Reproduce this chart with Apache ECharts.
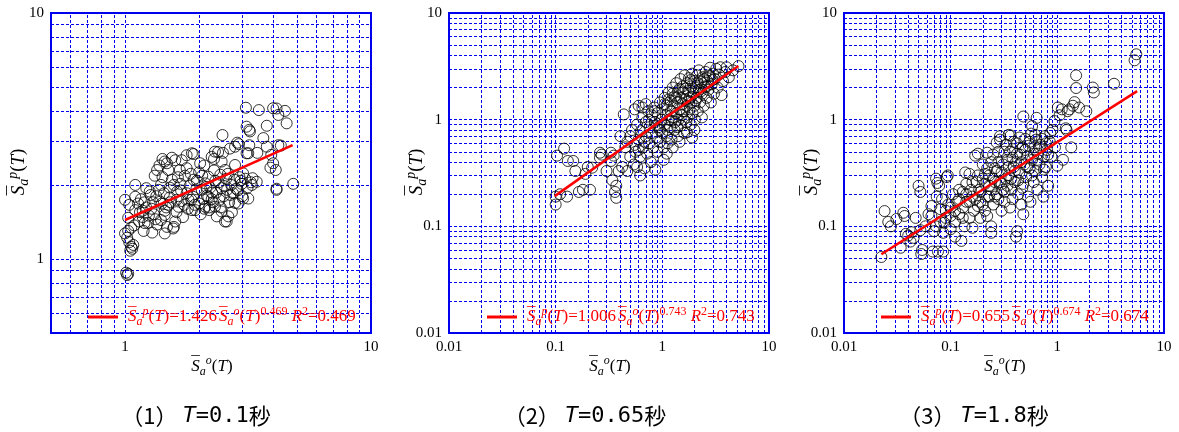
<!DOCTYPE html>
<html><head><meta charset="utf-8">
<script src="https://cdn.jsdelivr.net/npm/echarts@6/dist/echarts.min.js"></script>
<style>html,body{margin:0;padding:0;background:#fff}#c{width:1179px;height:432px}</style>
</head><body><div id="c"></div>
<script>
// ---------- data ----------
const panelCaptions = ['1', '2', '3'];
const captionPeriods = ['0.1', '0.65', '1.8'];
const fitCoef = ['1.426', '1.006', '0.655'];
const fitExp = ['0.469', '0.743', '0.674'];
const fitR2 = ['0.469', '0.743', '0.674'];
const axisMin = [0.5, 0.01, 0.01];
const axisMax = [10, 10, 10];
const gridLines1 = [0.6,0.7,0.8,0.9,1,2,3,4,5,6,7,8,9];
const gridLines23 = [0.02,0.03,0.04,0.05,0.06,0.07,0.08,0.09,0.1,0.2,0.3,0.4,0.5,0.6,0.7,0.8,0.9,1,2,3,4,5,6,7,8,9];

const fit1 = [[1.0,1.44],[4.8,2.90]];
const fit2 = [[0.098,0.192],[5.17,3.18]];
const fit3 = [[0.0224,0.0547],[5.6,1.85]];

const pts1 = [
[1.01,0.88],[1.02,0.86],[1.03,0.87],
[1.05,1.08],[1.07,1.10],[1.06,1.12],[1.08,1.14],[1.04,1.17],[1.02,1.22],[1.00,1.27],[1.03,1.30],[1.06,1.34],[1.09,1.37],[1.03,1.47],[1.10,1.58],[1.13,1.68],[1.10,1.79],[1.00,1.74],[1.04,1.66],[1.10,2.00],
[1.14,1.42],[1.18,1.48],[1.15,1.55],[1.18,1.57],[1.20,1.40],[1.24,1.40],[1.25,1.50],[1.22,1.62],[1.20,1.70],[1.16,1.75],[1.22,1.94],[1.27,1.82],[1.30,1.70],[1.28,1.60],[1.31,1.52],[1.33,1.45],[1.35,1.38],[1.37,1.91],[1.39,1.71],[1.40,2.00],[1.42,2.15],[1.45,2.49],[1.45,1.57],[1.45,1.51],[1.48,1.35],[1.45,1.27],[1.47,1.62],[1.50,1.66],[1.50,2.30],[1.52,1.78],[1.52,1.95],[1.55,2.10],[1.57,1.33],[1.58,1.35],[1.60,1.42],[1.60,2.52],[1.62,1.55],[1.63,1.88],[1.65,1.63],[1.67,2.30],[1.68,2.02],[1.70,2.52],[1.70,1.72],[1.72,1.48],[1.75,2.18],[1.78,2.34],[1.78,1.85],[1.80,1.60],[1.81,1.74],[1.83,1.98],[1.86,1.74],[1.87,2.69],[1.89,1.79],[1.90,2.67],[1.90,2.10],[1.93,1.58],[1.95,1.92],[2.00,1.68],[2.00,2.25],[2.03,1.52],[2.05,1.91],[2.08,1.75],[2.10,2.40],[2.12,2.03],[2.12,1.63],[2.15,1.81],[2.18,2.16],[2.18,1.79],[2.20,1.58],[2.22,1.95],[2.25,2.60],[2.28,1.70],[2.30,2.29],[2.32,1.63],[2.32,2.73],[2.35,1.86],[2.36,1.49],[2.39,2.72],[2.40,2.05],[2.42,1.74],[2.45,1.62],[2.47,2.49],[2.47,1.94],[2.47,1.56],[2.49,3.19],[2.50,2.70],[2.52,1.80],[2.55,2.30],[2.55,1.42],[2.58,2.12],[2.59,1.42],[2.60,1.91],[2.63,1.49],[2.65,1.70],[2.67,2.81],[2.70,2.00],[2.72,1.55],[2.75,1.85],[2.80,2.41],[2.80,1.69],[2.80,2.86],[2.83,1.93],[2.86,2.97],[2.89,1.68],[2.90,2.93],[2.92,2.15],[2.95,2.08],[3.00,1.80],[3.02,2.23],[3.02,1.76],[3.10,4.12],[3.12,2.69],[3.12,3.45],[3.17,2.69],[3.17,1.76],[3.20,3.35],[3.20,2.90],[3.22,3.30],[3.25,2.05],[3.30,2.13],[3.28,2.00],[3.43,2.06],[3.45,2.70],[3.50,4.03],[3.65,3.10],[3.77,3.48],[3.77,2.86],[3.90,2.35],[3.93,2.65],[4.00,4.10],[4.00,2.45],[4.10,2.30],[4.13,4.09],[4.13,1.91],[4.13,1.93],[4.20,3.85],[4.20,2.90],[4.30,2.89],[4.47,4.00],[4.54,3.56],[4.83,2.02],
[1.38,2.40],[1.42,2.55],[1.48,2.45],[1.55,2.58],[1.35,2.30],[1.32,2.18],[1.78,2.64],[2.02,2.45],[2.30,2.55],[1.87,1.58],[2.10,1.60],[2.20,1.62],
[1.26,1.88],[1.34,1.80],[1.41,1.68],[1.44,1.85],[1.53,1.70],[1.58,2.00],[1.64,2.15],[1.69,1.90],[1.74,1.66],[1.85,2.22],[1.96,2.08],[2.06,2.18],[2.14,1.96],[2.26,1.86],[2.33,2.08],[2.44,2.20],[2.53,1.98],[2.62,2.22],[2.68,1.82],[2.78,2.10],[2.88,1.90],[2.98,2.02],[3.08,2.12],[3.15,1.95],[1.19,1.30],[1.29,1.28],[1.40,1.44],[1.62,1.74],[1.92,1.66],[2.25,1.75]
];

const pts2 = [
[0.10,0.16],[0.10,0.19],[0.103,0.46],[0.12,0.535],[0.11,0.20],[0.128,0.19],[0.13,0.41],[0.146,0.41],[0.153,0.33],[0.165,0.21],[0.18,0.22],[0.21,0.22],[0.19,0.31],[0.22,0.355],[0.20,0.36],[0.26,0.49],[0.27,0.47],[0.26,0.44],[0.30,0.33],[0.33,0.49],[0.33,0.41],[0.35,0.46],[0.34,0.27],[0.37,0.24],[0.37,0.185],[0.36,0.21],
[0.435,1.12],[0.405,0.70],[0.39,0.33],[0.42,0.36],[0.45,0.55],[0.47,0.33],[0.47,0.62],[0.50,0.45],[0.50,0.70],[0.52,0.80],[0.54,0.38],[0.55,0.58],[0.56,0.50],[0.58,0.90],[0.58,0.36],[0.60,0.65],[0.62,0.30],[0.62,0.45],[0.63,0.78],[0.65,1.05],[0.66,0.55],[0.68,0.35],[0.70,0.95],[0.70,0.70],[0.72,0.48],[0.74,1.20],[0.75,0.60],[0.76,0.85],[0.78,0.40],[0.80,1.10],[0.80,0.75],[0.82,0.55],[0.84,1.30],[0.85,0.95],[0.86,0.34],[0.88,0.68],[0.90,1.15],[0.90,0.50],[0.92,0.85],[0.95,1.45],[0.95,0.62],[0.98,1.00],[1.00,0.75],[1.00,1.25],[1.03,0.42],[1.03,0.55],[1.05,1.60],[1.05,0.90],[1.08,1.10],[1.10,0.70],[1.10,1.35],[1.12,0.60],[1.15,1.80],[1.15,1.00],[1.18,0.85],[1.20,1.50],[1.20,1.20],[1.22,0.65],[1.25,2.00],[1.25,1.05],[1.28,1.35],[1.30,0.80],[1.30,1.65],[1.32,0.95],[1.35,2.20],[1.35,1.15],[1.38,1.45],[1.40,0.70],[1.40,1.85],[1.42,1.00],[1.45,1.25],[1.48,2.40],[1.50,1.60],[1.50,0.88],[1.52,1.10],[1.55,2.05],[1.55,1.40],[1.58,1.80],[1.60,0.75],[1.60,1.20],[1.62,2.60],[1.65,1.55],[1.68,0.95],[1.70,2.20],[1.70,1.35],[1.72,1.05],[1.75,1.85],[1.78,2.45],[1.80,1.25],[1.80,1.60],[1.85,0.90],[1.85,2.05],[1.88,1.45],[1.90,2.70],[1.92,1.15],[1.95,1.75],[2.00,2.30],[2.00,1.35],[2.02,1.00],[2.05,2.00],[2.10,1.60],[2.12,2.60],[2.15,1.20],[2.20,1.90],[2.20,2.90],[2.25,1.45],[2.30,2.25],[2.35,1.05],[2.35,1.75],[2.40,2.50],[2.45,1.35],[2.50,2.05],[2.55,2.80],[2.60,1.60],[2.65,2.30],[2.70,1.90],[2.80,3.07],[2.80,2.55],[2.85,1.45],[2.90,2.15],[3.00,2.70],[3.05,1.75],[3.10,2.40],[3.20,3.00],[3.30,2.00],[3.40,2.65],[3.50,3.10],[3.60,1.70],[3.70,2.30],[3.90,2.80],[4.00,3.10],[4.20,2.50],[4.60,2.90],[5.18,3.18],
[0.55,1.25],[0.60,1.35],[0.65,1.30],[0.70,1.40],[1.10,0.48],[1.25,0.55],[1.45,0.62],[1.70,0.76],[2.00,0.80],[1.90,0.68],
[0.75,1.00],[0.85,1.20],[0.95,0.80],[1.05,1.40],[1.15,1.55],[1.25,1.75],[1.35,1.60],[1.45,1.95],[1.55,1.20],[1.65,1.95],[1.75,1.50],[1.85,2.35],[1.95,1.95],[2.05,1.50],[2.15,2.20],[2.30,1.85],[2.45,2.40],[2.60,2.05],[2.75,2.60],[2.95,2.35],[1.12,0.80],[0.88,0.88],[0.68,0.62],[0.60,0.52],[1.38,0.85],[1.58,1.00],[1.22,0.98]
];

const pts3 = [
[0.0224,0.0516],[0.024,0.139],[0.026,0.11],[0.0275,0.10],[0.031,0.117],[0.034,0.063],[0.036,0.134],[0.037,0.125],[0.038,0.085],[0.040,0.082],[0.042,0.072],[0.043,0.088],[0.045,0.078],[0.047,0.12],[0.050,0.24],[0.052,0.21],[0.052,0.092],[0.053,0.055],[0.054,0.06],[0.058,0.10],[0.062,0.13],[0.066,0.155],[0.066,0.125],[0.068,0.058],[0.070,0.09],[0.073,0.28],[0.073,0.10],[0.074,0.19],[0.075,0.255],[0.076,0.058],[0.078,0.24],[0.080,0.145],[0.083,0.18],[0.085,0.087],[0.085,0.058],[0.087,0.108],[0.090,0.12],[0.092,0.29],[0.094,0.30],[0.095,0.16],[0.10,0.094],[0.10,0.125],[0.10,0.15],[0.105,0.20],[0.11,0.08],[0.11,0.11],[0.115,0.17],[0.12,0.18],[0.12,0.13],[0.126,0.073],[0.13,0.21],[0.13,0.15],[0.135,0.10],[0.137,0.32],[0.14,0.25],[0.14,0.17],[0.15,0.17],[0.15,0.31],[0.15,0.12],[0.155,0.22],[0.16,0.097],[0.16,0.19],[0.165,0.14],[0.17,0.18],[0.17,0.46],[0.175,0.26],[0.18,0.48],[0.18,0.155],[0.185,0.22],[0.19,0.21],[0.19,0.12],[0.20,0.16],[0.20,0.38],[0.20,0.28],[0.21,0.25],[0.21,0.14],[0.22,0.35],[0.22,0.49],[0.22,0.125],[0.22,0.19],[0.23,0.19],[0.23,0.30],[0.24,0.10],[0.24,0.087],[0.24,0.22],[0.25,0.47],[0.25,0.16],[0.26,0.35],[0.26,0.26],[0.27,0.61],[0.27,0.20],[0.28,0.18],[0.28,0.40],[0.29,0.26],[0.29,0.70],[0.29,0.65],[0.30,0.14],[0.30,0.32],[0.31,0.22],[0.32,0.50],[0.32,0.17],[0.33,0.28],[0.34,0.42],[0.35,0.72],[0.35,0.30],[0.36,0.15],[0.365,0.71],[0.37,0.22],[0.38,0.53],[0.38,0.18],[0.39,0.36],[0.40,0.26],[0.41,0.40],[0.41,0.08],[0.42,0.09],[0.42,0.60],[0.43,0.20],[0.44,0.32],[0.45,0.47],[0.46,0.16],[0.47,0.55],[0.48,1.07],[0.48,0.13],[0.48,0.25],[0.49,0.38],[0.50,0.66],[0.51,0.29],[0.52,0.45],[0.53,0.19],[0.54,0.57],[0.55,0.35],[0.56,0.17],[0.57,0.74],[0.58,0.87],[0.58,0.42],[0.60,0.26],[0.61,0.55],[0.62,0.33],[0.63,0.65],[0.64,1.04],[0.65,0.22],[0.66,0.48],[0.68,0.38],[0.70,0.58],[0.72,0.29],[0.74,0.19],[0.75,0.45],[0.76,0.70],[0.78,0.36],[0.80,0.52],[0.82,0.24],[0.85,0.62],[0.88,0.45],[0.90,0.80],[0.94,0.97],[0.95,0.55],[1.00,0.37],[1.01,1.30],[1.05,1.10],[1.10,1.25],[1.13,0.42],[1.20,0.83],[1.22,0.80],[1.25,1.20],[1.30,1.25],[1.35,0.55],[1.40,1.35],[1.45,1.46],[1.50,2.60],[1.50,1.98],[1.60,1.30],[1.87,1.20],[2.15,2.00],[2.20,1.80],[3.40,2.17],[5.30,3.60],[5.50,4.10],
[0.16,0.26],[0.18,0.30],[0.19,0.17],[0.21,0.31],[0.23,0.24],[0.24,0.40],[0.25,0.28],[0.26,0.19],[0.27,0.33],[0.28,0.50],[0.30,0.25],[0.31,0.38],[0.32,0.21],[0.33,0.58],[0.34,0.24],[0.35,0.36],[0.36,0.50],[0.37,0.28],[0.38,0.44],[0.39,0.62],[0.40,0.33],[0.42,0.48],[0.43,0.27],[0.44,0.68],[0.46,0.40],[0.47,0.23],[0.50,0.52],[0.52,0.36],[0.55,0.62],[0.58,0.30],[0.60,0.48],[0.62,0.72],[0.65,0.42],[0.68,0.55],[0.72,0.66],[0.75,0.34],[0.78,0.60],[0.82,0.47],[0.86,0.75],[0.12,0.22],[0.13,0.12],[0.14,0.20],[0.11,0.14],[0.09,0.14],[0.08,0.11]
];

// ---------- chart ----------
const BLUE = '#0000ee';
const RED = '#ff0000';
const serif = 'Liberation Serif';
const gridLefts = [51, 449, 844];
const captionCenters = [191, 580, 969];
const legendLefts = [83, 482, 876];
const pts = [pts1, pts2, pts3];
const fits = [fit1, fit2, fit3];
const gl = [gridLines1, gridLines23, gridLines23];

function decadeLabel(v) {
  const e = Math.log10(v);
  if (Math.abs(e - Math.round(e)) > 1e-6) return '';
  return String(+Math.pow(10, Math.round(e)).toPrecision(6));
}
// S with an overline bar drawn as a zero-width macron token above it
const SBAR = '{ov|\u00AF}{s|S}';
function richSet(size, color, lh) {
  const small = Math.round(size * 0.72);
  return {
    ov: {fontFamily: serif, fontSize: size, lineHeight: Math.round(size * 0.8), verticalAlign: 'top', width: 0, align: 'left', color: color, padding: [0, 0, 0, 2]},
    s: {fontFamily: serif, fontStyle: 'italic', fontSize: size, lineHeight: lh, color: color},
    sub: {fontFamily: serif, fontStyle: 'italic', fontSize: small, lineHeight: small, verticalAlign: 'bottom', color: color},
    sup: {fontFamily: serif, fontStyle: 'italic', fontSize: small, lineHeight: small + 2, verticalAlign: 'top', color: color},
    supn: {fontFamily: serif, fontSize: small, lineHeight: small + 2, verticalAlign: 'top', color: color},
    n: {fontFamily: serif, fontSize: size, lineHeight: lh, color: color}
  };
}
const capRich = {
  p: {fontFamily: 'Noto Sans CJK JP', fontWeight: 'normal', fontSize: 22, color: '#000', lineHeight: 28},
  t: {fontFamily: 'DejaVu Sans Mono', fontWeight: 'normal', fontStyle: 'italic', fontSize: 22, color: '#000', lineHeight: 28},
  n: {fontFamily: 'DejaVu Sans Mono', fontWeight: 'normal', fontSize: 22, color: '#000', lineHeight: 28},
  k: {fontFamily: 'Noto Sans CJK JP', fontWeight: 'normal', fontSize: 22, color: '#000', lineHeight: 28}
};

const option = {
  animation: false,
  backgroundColor: '#fff',
  grid: [], xAxis: [], yAxis: [], series: [], legend: [], title: []
};
for (let i = 0; i < 3; i++) {
  option.grid.push({left: gridLefts[i], top: 13, width: 320, height: 320, show: true, borderColor: BLUE, borderWidth: 2, backgroundColor: '#fff'});
  const common = {
    type: 'log', logBase: 10, gridIndex: i, min: axisMin[i], max: axisMax[i],
    axisLine: {show: false}, axisTick: {show: false}, splitLine: {show: false},
    axisLabel: {formatter: decadeLabel, color: '#000', fontFamily: serif, fontSize: 15, margin: 7, showMinLabel: true, showMaxLabel: true},
    nameLocation: 'middle', nameMoveOverlap: false
  };
  option.xAxis.push(Object.assign({}, common, {
    name: SBAR + '{sub|a}{sup|o}{n|(}{s|T}{n|)}', nameGap: 22,
    nameTextStyle: {rich: richSet(17, '#000', 23)}
  }));
  option.yAxis.push(Object.assign({}, common, {
    name: SBAR + '{sub|a}{sup|p}{n|(}{s|T}{n|)}', nameGap: 20, nameRotate: 90,
    nameTextStyle: {rich: richSet(19, '#000', 25)}
  }));
  const lo = axisMin[i], hi = axisMax[i];
  const lines = gl[i].map(v => ({coords: [[v, lo], [v, hi]]}))
    .concat(gl[i].map(v => ({coords: [[lo, v], [hi, v]]})));
  option.series.push({
    type: 'lines', coordinateSystem: 'cartesian2d', xAxisIndex: i, yAxisIndex: i, data: lines,
    polyline: false, silent: true, z: 1,
    lineStyle: {color: BLUE, type: [3, 2], width: 1, opacity: 1, curveness: 0}
  });
  option.series.push({
    type: 'scatter', xAxisIndex: i, yAxisIndex: i, data: pts[i],
    symbol: 'circle', symbolSize: 11,
    itemStyle: {color: 'rgba(0,0,0,0)', borderColor: '#000', borderWidth: 1},
    silent: true, z: 3
  });
  option.series.push({
    name: 'fit' + (i + 1), type: 'line', xAxisIndex: i, yAxisIndex: i, data: fits[i],
    showSymbol: false, symbol: 'none', lineStyle: {color: RED, width: 2.5}, itemStyle: {color: RED}, z: 5, silent: true
  });
  option.legend.push({
    data: ['fit' + (i + 1)], left: legendLefts[i], top: 301, icon: 'rect', itemWidth: 30, itemHeight: 3,
    itemStyle: {color: RED}, selectedMode: false,
    formatter: () => SBAR + '{sub|a}{sup|p}{n|(}{s|T}{n|)=' + fitCoef[i] + '}' + SBAR + '{sub|a}{sup|o}{n|(}{s|T}{n|)}{supn|' + fitExp[i] + '}{n| }{s|R}{supn|2}{n|=' + fitR2[i] + '}',
    textStyle: {rich: richSet(17, RED, 22), padding: [0, 0, 0, 3]}
  });
  option.title.push({
    text: '{p|（' + panelCaptions[i] + '）} {t|T}{n|=' + captionPeriods[i] + '}{k|秒}',
    left: captionCenters[i], top: 397, textAlign: 'center',
    textStyle: {rich: capRich, fontWeight: 'normal'}
  });
}
const chart = echarts.init(document.getElementById('c'), null, {renderer: 'canvas'});
chart.setOption(option);
</script>
</body></html>
